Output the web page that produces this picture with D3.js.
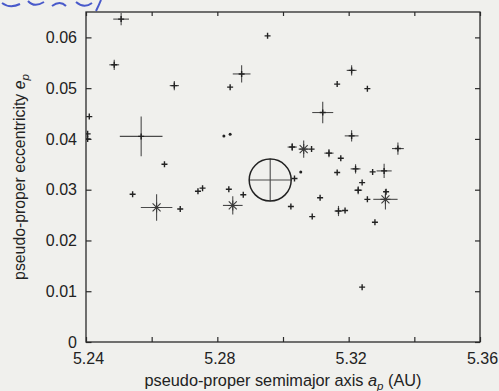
<!DOCTYPE html>
<html>
<head>
<meta charset="utf-8">
<script src="https://cdn.jsdelivr.net/npm/d3@7"></script>
<style>
  html, body { margin: 0; padding: 0; background: #f0f0ed; }
  svg { display: block; }
</style>
</head>
<body>
<svg id="chart" width="499" height="391"></svg>
<script>
// ---- data ----
const aValues = [5.2507, 5.2486, 5.2669, 5.2953, 5.2874, 5.2839, 5.2410, 5.2405, 5.2405,
  5.2568, 5.2820, 5.2839, 5.3209, 5.3165, 5.3257, 5.3121, 5.3209, 5.2639, 5.3028, 5.3063,
  5.3087, 5.3140, 5.3176, 5.3350, 5.3054, 5.3035, 5.3165, 5.3221, 5.3273, 5.3308,
  5.3241, 5.3229, 5.3257, 5.3312, 5.3314, 5.3113, 5.3024, 5.3089, 5.3169, 5.3189,
  5.3280, 5.3241, 5.2542, 5.2741, 5.2755, 5.2835, 5.2879, 5.2961, 5.2615, 5.2687, 5.2847];
const eValues = [0.0636, 0.0546, 0.0505, 0.0603, 0.0528, 0.0502, 0.0444, 0.0410, 0.0400,
  0.0405, 0.0406, 0.0409, 0.0535, 0.0508, 0.0499, 0.0452, 0.0406, 0.0350, 0.0384, 0.0380,
  0.0380, 0.0372, 0.0362, 0.0381, 0.0335, 0.0322, 0.0334, 0.0341, 0.0335, 0.0337,
  0.0314, 0.0299, 0.0281, 0.0281, 0.0296, 0.0284, 0.0267, 0.0247, 0.0258, 0.0259,
  0.0236, 0.0108, 0.0291, 0.0297, 0.0303, 0.0301, 0.0290, 0.0319, 0.0265, 0.0262, 0.0269];
const aErrors = [0.0024, 0.0015, 0.0014, 0, 0.0027, 0, 0, 0, 0,
  0.0065, 0, 0, 0.0015, 0, 0, 0.0032, 0.0021, 0, 0.0014, 0.0012,
  0, 0.0014, 0, 0.0018, 0, 0, 0, 0.0015, 0, 0.0023,
  0, 0.0012, 0, 0.0037, 0, 0, 0, 0, 0.0012, 0,
  0, 0, 0, 0, 0, 0, 0, 0.0064, 0.0048, 0, 0.0030];
const eErrors = [0.0012, 0.0010, 0.0009, 0, 0.0017, 0, 0, 0, 0,
  0.0039, 0, 0, 0.0010, 0, 0, 0.0021, 0.0011, 0, 0.0008, 0.0017,
  0, 0.0008, 0, 0.0012, 0, 0, 0, 0.0009, 0, 0.0014,
  0, 0.0008, 0, 0.0020, 0, 0, 0, 0, 0.0010, 0,
  0, 0, 0, 0, 0, 0, 0, 0.0042, 0.0026, 0, 0.0018];
const markerTypes = ["plus", "plus", "plus", "plus", "plus", "plus", "plus", "plus", "plus",
  "plus", "dot", "dot", "plus", "plus", "plus", "plus", "plus", "plus", "plus", "star",
  "plus", "plus", "plus", "plus", "dot", "plus", "plus", "plus", "plus", "plus",
  "plus", "plus", "plus", "star", "plus", "plus", "plus", "plus", "plus", "plus",
  "plus", "plus", "plus", "plus", "plus", "plus", "plus", "circle", "star", "plus", "star"];

const xDomain = [5.24, 5.36];
const yDomain = [0, 0.065];
const xTicks = [5.24, 5.26, 5.28, 5.30, 5.32, 5.34, 5.36];
const xTickLabels = ["5.24", "", "5.28", "", "5.32", "", "5.36"];
const yTicks = [0, 0.01, 0.02, 0.03, 0.04, 0.05, 0.06];
const yTickLabels = ["0", "0.01", "0.02", "0.03", "0.04", "0.05", "0.06"];

// ---- layout ----
const svg = d3.select("#chart");
const margin = { left: 86, right: 19, top: 12, bottom: 49 };
const W = 499, H = 391;
const x = d3.scaleLinear().domain(xDomain).range([margin.left, W - margin.right]);
const y = d3.scaleLinear().domain(yDomain).range([H - margin.bottom, margin.top]);
const font = "'Liberation Sans', Arial, Helvetica, sans-serif";
const ink = "#2a2a2a";

// scan artefact: blue handwriting cut off at the top of the page
svg.append("path")
  .attr("d", "M2,3 Q10,9 20,4 M28,1 Q34,8 44,2 M52,6 Q60,0 66,6 M76,2 Q84,9 92,3 M96,11 Q99,5 101,0")
  .attr("fill", "none").attr("stroke", "#2b3fc4").attr("stroke-width", 2).attr("opacity", 0.85);

svg.append("defs").append("clipPath").attr("id", "plotClip")
  .append("rect")
  .attr("x", x.range()[0]).attr("y", y.range()[1])
  .attr("width", x.range()[1] - x.range()[0])
  .attr("height", y.range()[0] - y.range()[1]);

// axes (ticks inward)
function styleAxis(g) {
  g.select(".domain").remove();
  g.selectAll("line").attr("stroke", ink).attr("stroke-width", 1.2);
  g.selectAll("text").attr("font-family", font).attr("font-size", 16).attr("fill", "#222");
}
svg.append("g").attr("transform", `translate(0,${y.range()[0]})`)
  .call(d3.axisBottom(x).tickValues(xTicks).tickSize(-5).tickPadding(11)
    .tickFormat((d, i) => xTickLabels[i]))
  .call(styleAxis)
  .call(g => g.selectAll("text").attr("dx", 2));
svg.append("g").attr("transform", `translate(0,${y.range()[1]})`)
  .call(d3.axisTop(x).tickValues(xTicks).tickSize(-4).tickFormat(""))
  .call(styleAxis);
svg.append("g").attr("transform", `translate(${x.range()[0]},0)`)
  .call(d3.axisLeft(y).tickValues(yTicks).tickSize(-5.5).tickPadding(9)
    .tickFormat((d, i) => yTickLabels[i]))
  .call(styleAxis);
svg.append("g").attr("transform", `translate(${x.range()[1]},0)`)
  .call(d3.axisRight(y).tickValues(yTicks).tickSize(-5).tickFormat(""))
  .call(styleAxis);

// frame
svg.append("rect")
  .attr("x", x.range()[0]).attr("y", y.range()[1])
  .attr("width", x.range()[1] - x.range()[0])
  .attr("height", y.range()[0] - y.range()[1])
  .attr("fill", "none").attr("stroke", ink).attr("stroke-width", 1.3);

// points
const data = aValues.map((a, i) => ({ a, e: eValues[i], da: aErrors[i], de: eErrors[i], type: markerTypes[i] }));
const plot = svg.append("g").attr("clip-path", "url(#plotClip)");
const pts = plot.selectAll("g.pt").data(data).join("g").attr("class", "pt");

// error bars
pts.filter(d => d.da > 0).append("line")
  .attr("x1", d => x(d.a - d.da)).attr("x2", d => x(d.a + d.da))
  .attr("y1", d => y(d.e)).attr("y2", d => y(d.e))
  .attr("stroke", "#4a4a4a").attr("stroke-width", 1.1);
pts.filter(d => d.de > 0).append("line")
  .attr("x1", d => x(d.a)).attr("x2", d => x(d.a))
  .attr("y1", d => y(d.e - d.de)).attr("y2", d => y(d.e + d.de))
  .attr("stroke", "#4a4a4a").attr("stroke-width", 1.1);

// markers
const plusPath = (cx, cy, s) => `M${cx - s},${cy}H${cx + s}M${cx},${cy - s}V${cy + s}`;
const xPath = (cx, cy, s) => `M${cx - s},${cy - s}L${cx + s},${cy + s}M${cx - s},${cy + s}L${cx + s},${cy - s}`;

pts.filter(d => d.type === "plus").append("path")
  .attr("d", d => plusPath(x(d.a), y(d.e), 3))
  .attr("stroke", "#222").attr("stroke-width", 1.4).attr("fill", "none");
pts.filter(d => d.type === "dot").append("circle")
  .attr("cx", d => x(d.a)).attr("cy", d => y(d.e)).attr("r", 1.5)
  .attr("fill", "#222");
pts.filter(d => d.type === "star").append("path")
  .attr("d", d => plusPath(x(d.a), y(d.e), 5) + xPath(x(d.a), y(d.e), 4))
  .attr("stroke", "#3a3a3a").attr("stroke-width", 1.1).attr("fill", "none");
pts.filter(d => d.type === "circle").append("circle")
  .attr("cx", d => x(d.a)).attr("cy", d => y(d.e))
  .attr("r", d => x(d.a + d.da) - x(d.a))
  .attr("fill", "none").attr("stroke", "#222").attr("stroke-width", 1.5);

// axis titles
const xt = svg.append("text")
  .attr("x", (x.range()[0] + x.range()[1]) / 2).attr("y", 386)
  .attr("text-anchor", "middle")
  .attr("font-family", font).attr("font-size", 16.3).attr("fill", "#222");
xt.append("tspan").text("pseudo-proper semimajor axis ");
xt.append("tspan").attr("font-style", "italic").text("a");
xt.append("tspan").attr("font-style", "italic").attr("font-size", 11.5).attr("dy", 4).text("p");
xt.append("tspan").attr("dy", -4).text(" (AU)");

const yt = svg.append("text")
  .attr("transform", `translate(25,${(y.range()[0] + y.range()[1]) / 2}) rotate(-90)`)
  .attr("text-anchor", "middle")
  .attr("font-family", font).attr("font-size", 15.8).attr("fill", "#222");
yt.append("tspan").text("pseudo-proper eccentricity ");
yt.append("tspan").attr("font-style", "italic").text("e");
yt.append("tspan").attr("font-style", "italic").attr("font-size", 11.5).attr("dy", 4).text("p");
</script>
</body>
</html>
